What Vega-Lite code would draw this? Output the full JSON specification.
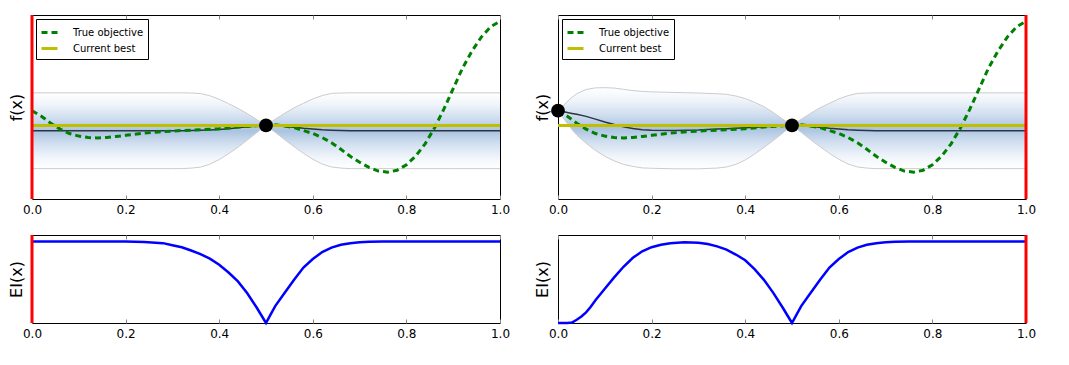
{
  "$schema": "https://vega.github.io/schema/vega-lite/v6.json",
  "padding": {"left": 7, "top": 13, "right": 0, "bottom": 0},
  "config": {
    "font": "DejaVu Sans",
    "view": {"stroke": "#000", "strokeWidth": 1},
    "axisY": {"labels": false, "ticks": false, "domain": false, "grid": false, "titleFontSize": 16, "titleFontWeight": "normal", "titleFont": "DejaVu Sans", "titlePadding": 8, "titleColor": "#000"},
    "legend": {
      "orient": "top-left", "offset": 4, "title": null,
      "strokeColor": "#000", "fillColor": "#fff", "padding": 4, "cornerRadius": 0,
      "symbolType": "stroke", "symbolSize": 256, "symbolStrokeWidth": 3,
      "labelFont": "DejaVu Sans", "labelFontSize": 10, "labelColor": "#000",
      "labelOffset": 14, "rowPadding": 0
    }
  },
  "datasets": {
    "lines": [
      {"x": 0, "f": 0.40, "series": "True objective"},
      {"x": 0.02, "f": 0.25, "series": "True objective"},
      {"x": 0.04, "f": 0.06, "series": "True objective"},
      {"x": 0.06, "f": -0.10, "series": "True objective"},
      {"x": 0.08, "f": -0.22, "series": "True objective"},
      {"x": 0.10, "f": -0.29, "series": "True objective"},
      {"x": 0.12, "f": -0.33, "series": "True objective"},
      {"x": 0.14, "f": -0.34, "series": "True objective"},
      {"x": 0.16, "f": -0.33, "series": "True objective"},
      {"x": 0.18, "f": -0.30, "series": "True objective"},
      {"x": 0.20, "f": -0.27, "series": "True objective"},
      {"x": 0.24, "f": -0.21, "series": "True objective"},
      {"x": 0.28, "f": -0.17, "series": "True objective"},
      {"x": 0.32, "f": -0.14, "series": "True objective"},
      {"x": 0.36, "f": -0.12, "series": "True objective"},
      {"x": 0.40, "f": -0.09, "series": "True objective"},
      {"x": 0.44, "f": -0.045, "series": "True objective"},
      {"x": 0.48, "f": -0.01, "series": "True objective"},
      {"x": 0.50, "f": 0, "series": "True objective"},
      {"x": 0.52, "f": 0.015, "series": "True objective"},
      {"x": 0.54, "f": -0.02, "series": "True objective"},
      {"x": 0.56, "f": -0.06, "series": "True objective"},
      {"x": 0.58, "f": -0.14, "series": "True objective"},
      {"x": 0.60, "f": -0.22, "series": "True objective"},
      {"x": 0.62, "f": -0.33, "series": "True objective"},
      {"x": 0.64, "f": -0.47, "series": "True objective"},
      {"x": 0.66, "f": -0.65, "series": "True objective"},
      {"x": 0.68, "f": -0.84, "series": "True objective"},
      {"x": 0.70, "f": -1.00, "series": "True objective"},
      {"x": 0.72, "f": -1.14, "series": "True objective"},
      {"x": 0.74, "f": -1.24, "series": "True objective"},
      {"x": 0.76, "f": -1.27, "series": "True objective"},
      {"x": 0.78, "f": -1.22, "series": "True objective"},
      {"x": 0.80, "f": -1.07, "series": "True objective"},
      {"x": 0.82, "f": -0.83, "series": "True objective"},
      {"x": 0.84, "f": -0.50, "series": "True objective"},
      {"x": 0.86, "f": -0.07, "series": "True objective"},
      {"x": 0.88, "f": 0.44, "series": "True objective"},
      {"x": 0.90, "f": 1.00, "series": "True objective"},
      {"x": 0.92, "f": 1.56, "series": "True objective"},
      {"x": 0.94, "f": 2.02, "series": "True objective"},
      {"x": 0.96, "f": 2.40, "series": "True objective"},
      {"x": 0.98, "f": 2.68, "series": "True objective"},
      {"x": 1.00, "f": 2.83, "series": "True objective"},
      {"x": 0, "f": 0, "series": "Current best"},
      {"x": 1, "f": 0, "series": "Current best"}
    ],
    "gpL": [
      {"x": 0, "mean": -0.145, "lo": -1.175, "hi": 0.885},
      {"x": 0.1, "mean": -0.145, "lo": -1.175, "hi": 0.885},
      {"x": 0.2, "mean": -0.145, "lo": -1.175, "hi": 0.885},
      {"x": 0.3, "mean": -0.145, "lo": -1.175, "hi": 0.885},
      {"x": 0.32, "mean": -0.145, "lo": -1.175, "hi": 0.885},
      {"x": 0.34, "mean": -0.14, "lo": -1.16, "hi": 0.88},
      {"x": 0.36, "mean": -0.135, "lo": -1.135, "hi": 0.865},
      {"x": 0.38, "mean": -0.125, "lo": -1.055, "hi": 0.805},
      {"x": 0.40, "mean": -0.11, "lo": -0.93, "hi": 0.71},
      {"x": 0.42, "mean": -0.09, "lo": -0.77, "hi": 0.59},
      {"x": 0.44, "mean": -0.065, "lo": -0.595, "hi": 0.465},
      {"x": 0.46, "mean": -0.04, "lo": -0.40, "hi": 0.32},
      {"x": 0.48, "mean": -0.02, "lo": -0.20, "hi": 0.16},
      {"x": 0.49, "mean": -0.01, "lo": -0.10, "hi": 0.08},
      {"x": 0.50, "mean": 0, "lo": 0, "hi": 0},
      {"x": 0.51, "mean": -0.005, "lo": -0.095, "hi": 0.085},
      {"x": 0.52, "mean": -0.01, "lo": -0.19, "hi": 0.17},
      {"x": 0.54, "mean": -0.03, "lo": -0.39, "hi": 0.33},
      {"x": 0.56, "mean": -0.05, "lo": -0.58, "hi": 0.48},
      {"x": 0.58, "mean": -0.08, "lo": -0.76, "hi": 0.60},
      {"x": 0.60, "mean": -0.10, "lo": -0.92, "hi": 0.72},
      {"x": 0.62, "mean": -0.12, "lo": -1.05, "hi": 0.81},
      {"x": 0.64, "mean": -0.13, "lo": -1.13, "hi": 0.87},
      {"x": 0.66, "mean": -0.14, "lo": -1.16, "hi": 0.88},
      {"x": 0.68, "mean": -0.145, "lo": -1.175, "hi": 0.885},
      {"x": 0.8, "mean": -0.145, "lo": -1.175, "hi": 0.885},
      {"x": 0.9, "mean": -0.145, "lo": -1.175, "hi": 0.885},
      {"x": 1, "mean": -0.145, "lo": -1.175, "hi": 0.885}
    ],
    "gpR": [
      {"x": 0, "mean": 0.40, "lo": 0.40, "hi": 0.40},
      {"x": 0.01, "mean": 0.375, "lo": 0.225, "hi": 0.525},
      {"x": 0.02, "mean": 0.35, "lo": 0.05, "hi": 0.65},
      {"x": 0.03, "mean": 0.325, "lo": -0.115, "hi": 0.765},
      {"x": 0.04, "mean": 0.30, "lo": -0.26, "hi": 0.86},
      {"x": 0.06, "mean": 0.245, "lo": -0.485, "hi": 0.975},
      {"x": 0.08, "mean": 0.17, "lo": -0.68, "hi": 1.02},
      {"x": 0.10, "mean": 0.09, "lo": -0.84, "hi": 1.025},
      {"x": 0.12, "mean": 0.025, "lo": -0.965, "hi": 1.015},
      {"x": 0.14, "mean": -0.04, "lo": -1.06, "hi": 0.98},
      {"x": 0.16, "mean": -0.085, "lo": -1.115, "hi": 0.945},
      {"x": 0.18, "mean": -0.115, "lo": -1.155, "hi": 0.925},
      {"x": 0.20, "mean": -0.13, "lo": -1.165, "hi": 0.91},
      {"x": 0.25, "mean": -0.14, "lo": -1.18, "hi": 0.895},
      {"x": 0.30, "mean": -0.125, "lo": -1.18, "hi": 0.88},
      {"x": 0.34, "mean": -0.10, "lo": -1.16, "hi": 0.86},
      {"x": 0.36, "mean": -0.09, "lo": -1.13, "hi": 0.845},
      {"x": 0.38, "mean": -0.075, "lo": -1.06, "hi": 0.80},
      {"x": 0.40, "mean": -0.065, "lo": -0.94, "hi": 0.73},
      {"x": 0.42, "mean": -0.05, "lo": -0.78, "hi": 0.63},
      {"x": 0.44, "mean": -0.035, "lo": -0.60, "hi": 0.51},
      {"x": 0.46, "mean": -0.025, "lo": -0.41, "hi": 0.35},
      {"x": 0.48, "mean": -0.01, "lo": -0.21, "hi": 0.17},
      {"x": 0.49, "mean": -0.005, "lo": -0.105, "hi": 0.085},
      {"x": 0.50, "mean": 0, "lo": 0, "hi": 0},
      {"x": 0.51, "mean": -0.005, "lo": -0.095, "hi": 0.085},
      {"x": 0.52, "mean": -0.01, "lo": -0.19, "hi": 0.17},
      {"x": 0.54, "mean": -0.03, "lo": -0.39, "hi": 0.33},
      {"x": 0.56, "mean": -0.05, "lo": -0.58, "hi": 0.48},
      {"x": 0.58, "mean": -0.08, "lo": -0.76, "hi": 0.60},
      {"x": 0.60, "mean": -0.10, "lo": -0.92, "hi": 0.72},
      {"x": 0.62, "mean": -0.12, "lo": -1.05, "hi": 0.81},
      {"x": 0.64, "mean": -0.13, "lo": -1.13, "hi": 0.87},
      {"x": 0.66, "mean": -0.14, "lo": -1.16, "hi": 0.88},
      {"x": 0.68, "mean": -0.145, "lo": -1.175, "hi": 0.885},
      {"x": 0.8, "mean": -0.145, "lo": -1.175, "hi": 0.885},
      {"x": 0.9, "mean": -0.145, "lo": -1.175, "hi": 0.885},
      {"x": 1, "mean": -0.145, "lo": -1.175, "hi": 0.885}
    ],
    "ptsL": [{"x": 0.5, "f": 0}],
    "ptsR": [{"x": 0, "f": 0.40}, {"x": 0.5, "f": 0}],
    "redL": [{"x": 0}],
    "redR": [{"x": 1}],
    "eiL": [
      {"x": 0, "ei": 1}, {"x": 0.1, "ei": 1}, {"x": 0.2, "ei": 1},
      {"x": 0.24, "ei": 0.995}, {"x": 0.28, "ei": 0.98}, {"x": 0.30, "ei": 0.955},
      {"x": 0.32, "ei": 0.93}, {"x": 0.34, "ei": 0.89}, {"x": 0.36, "ei": 0.845},
      {"x": 0.38, "ei": 0.79}, {"x": 0.40, "ei": 0.715}, {"x": 0.42, "ei": 0.62},
      {"x": 0.44, "ei": 0.51}, {"x": 0.46, "ei": 0.365}, {"x": 0.48, "ei": 0.19},
      {"x": 0.49, "ei": 0.095}, {"x": 0.50, "ei": 0}, {"x": 0.51, "ei": 0.105},
      {"x": 0.52, "ei": 0.21}, {"x": 0.54, "ei": 0.37}, {"x": 0.56, "ei": 0.53},
      {"x": 0.58, "ei": 0.68}, {"x": 0.60, "ei": 0.785}, {"x": 0.62, "ei": 0.87},
      {"x": 0.64, "ei": 0.925}, {"x": 0.66, "ei": 0.96}, {"x": 0.68, "ei": 0.98},
      {"x": 0.70, "ei": 0.99}, {"x": 0.72, "ei": 0.996}, {"x": 0.75, "ei": 1},
      {"x": 0.9, "ei": 1}, {"x": 1, "ei": 1}
    ],
    "eiR": [
      {"x": 0, "ei": 0}, {"x": 0.02, "ei": 0}, {"x": 0.03, "ei": 0.005},
      {"x": 0.04, "ei": 0.04}, {"x": 0.05, "ei": 0.08}, {"x": 0.06, "ei": 0.13},
      {"x": 0.07, "ei": 0.2}, {"x": 0.08, "ei": 0.28}, {"x": 0.09, "ei": 0.35},
      {"x": 0.10, "ei": 0.42}, {"x": 0.12, "ei": 0.56}, {"x": 0.14, "ei": 0.69},
      {"x": 0.16, "ei": 0.80}, {"x": 0.18, "ei": 0.88}, {"x": 0.20, "ei": 0.93},
      {"x": 0.22, "ei": 0.96}, {"x": 0.24, "ei": 0.98}, {"x": 0.27, "ei": 0.99},
      {"x": 0.30, "ei": 0.985}, {"x": 0.32, "ei": 0.97}, {"x": 0.34, "ei": 0.94},
      {"x": 0.36, "ei": 0.90}, {"x": 0.38, "ei": 0.84}, {"x": 0.40, "ei": 0.77},
      {"x": 0.42, "ei": 0.66}, {"x": 0.44, "ei": 0.53}, {"x": 0.46, "ei": 0.37},
      {"x": 0.48, "ei": 0.19}, {"x": 0.49, "ei": 0.095}, {"x": 0.50, "ei": 0},
      {"x": 0.51, "ei": 0.105}, {"x": 0.52, "ei": 0.21}, {"x": 0.54, "ei": 0.37},
      {"x": 0.56, "ei": 0.53}, {"x": 0.58, "ei": 0.68}, {"x": 0.60, "ei": 0.785},
      {"x": 0.62, "ei": 0.87}, {"x": 0.64, "ei": 0.925}, {"x": 0.66, "ei": 0.96},
      {"x": 0.68, "ei": 0.98}, {"x": 0.70, "ei": 0.99}, {"x": 0.72, "ei": 0.996},
      {"x": 0.75, "ei": 1}, {"x": 0.9, "ei": 1}, {"x": 1, "ei": 1}
    ]
  },
  "columns": 2,
  "bounds": "flush",
  "spacing": {"row": 36, "column": 58},
  "resolve": {"scale": {"color": "independent", "strokeDash": "independent"}, "legend": {"color": "independent", "strokeDash": "independent"}},
  "concat": [
    {
      "width": 468, "height": 184,
      "resolve": {"axis": {"x": "independent"}},
      "layer": [
        {
          "data": {"name": "gpL"},
          "mark": {"type": "area", "orient": "vertical", "fill": {"gradient": "linear", "x1": 0, "y1": 0, "x2": 0, "y2": 1, "stops": [{"offset": 0, "color": "#ffffff"}, {"offset": 0.15, "color": "#f0f5fb"}, {"offset": 0.35, "color": "#cddcee"}, {"offset": 0.5, "color": "#a9c3e0"}, {"offset": 0.65, "color": "#cddcee"}, {"offset": 0.85, "color": "#f0f5fb"}, {"offset": 1, "color": "#ffffff"}]}},
          "encoding": {
            "x": {"field": "x", "type": "quantitative", "scale": {"domain": [0, 1], "nice": false, "zero": false},
              "axis": {"orient": "bottom", "values": [0, 0.2, 0.4, 0.6, 0.8, 1], "format": ".1f", "title": null, "grid": false, "domain": false, "tickSize": -4, "tickColor": "#888", "labelPadding": 9, "labelFontSize": 12, "labelFont": "DejaVu Sans", "labelColor": "#000", "labelFlush": false, "labelOverlap": false}},
            "y": {"field": "lo", "type": "quantitative", "title": "f(x)", "scale": {"domain": [-2, 3], "nice": false, "zero": false}},
            "y2": {"field": "hi"}
          }
        },
        {
          "data": {"name": "gpL"},
          "mark": {"type": "line", "color": "#cccccc", "strokeWidth": 1},
          "encoding": {"x": {"field": "x", "type": "quantitative", "axis": {"orient": "top", "values": [0, 0.2, 0.4, 0.6, 0.8, 1], "labels": false, "title": null, "grid": false, "domain": false, "tickSize": -4, "tickColor": "#888"}}, "y": {"field": "hi", "type": "quantitative", "title": "f(x)"}}
        },
        {
          "data": {"name": "gpL"},
          "mark": {"type": "line", "color": "#cccccc", "strokeWidth": 1},
          "encoding": {"x": {"field": "x", "type": "quantitative", "axis": null}, "y": {"field": "lo", "type": "quantitative", "title": "f(x)"}}
        },
        {
          "data": {"name": "gpL"},
          "mark": {"type": "line", "color": "#2e3440", "strokeWidth": 1.5},
          "encoding": {"x": {"field": "x", "type": "quantitative", "axis": null}, "y": {"field": "mean", "type": "quantitative", "title": "f(x)"}}
        },
        {
          "data": {"name": "lines"},
          "mark": {"type": "line", "strokeWidth": 3},
          "encoding": {
            "x": {"field": "x", "type": "quantitative", "axis": null},
            "y": {"field": "f", "type": "quantitative", "title": "f(x)"},
            "color": {"field": "series", "type": "nominal", "scale": {"domain": ["True objective", "Current best"], "range": ["#008000", "#bfbf00"]}},
            "strokeDash": {"field": "series", "type": "nominal", "scale": {"domain": ["True objective", "Current best"], "range": [[6, 4], [1, 0]]}}
          }
        },
        {
          "data": {"name": "ptsL"},
          "mark": {"type": "circle", "color": "#000", "opacity": 1, "size": 190},
          "encoding": {"x": {"field": "x", "type": "quantitative", "axis": null}, "y": {"field": "f", "type": "quantitative", "title": "f(x)"}}
        },
        {
          "data": {"name": "redL"},
          "mark": {"type": "rule", "color": "#ff0000", "strokeWidth": 3},
          "encoding": {"x": {"field": "x", "type": "quantitative", "axis": null}}
        }
      ]
    },
    {
      "width": 468, "height": 184,
      "resolve": {"axis": {"x": "independent"}},
      "layer": [
        {
          "data": {"name": "gpR"},
          "mark": {"type": "area", "orient": "vertical", "fill": {"gradient": "linear", "x1": 0, "y1": 0, "x2": 0, "y2": 1, "stops": [{"offset": 0, "color": "#ffffff"}, {"offset": 0.15, "color": "#f0f5fb"}, {"offset": 0.35, "color": "#cddcee"}, {"offset": 0.5, "color": "#a9c3e0"}, {"offset": 0.65, "color": "#cddcee"}, {"offset": 0.85, "color": "#f0f5fb"}, {"offset": 1, "color": "#ffffff"}]}},
          "encoding": {
            "x": {"field": "x", "type": "quantitative", "scale": {"domain": [0, 1], "nice": false, "zero": false},
              "axis": {"orient": "bottom", "values": [0, 0.2, 0.4, 0.6, 0.8, 1], "format": ".1f", "title": null, "grid": false, "domain": false, "tickSize": -4, "tickColor": "#888", "labelPadding": 9, "labelFontSize": 12, "labelFont": "DejaVu Sans", "labelColor": "#000", "labelFlush": false, "labelOverlap": false}},
            "y": {"field": "lo", "type": "quantitative", "title": "f(x)", "scale": {"domain": [-2, 3], "nice": false, "zero": false}},
            "y2": {"field": "hi"}
          }
        },
        {
          "data": {"name": "gpR"},
          "mark": {"type": "line", "color": "#cccccc", "strokeWidth": 1},
          "encoding": {"x": {"field": "x", "type": "quantitative", "axis": {"orient": "top", "values": [0, 0.2, 0.4, 0.6, 0.8, 1], "labels": false, "title": null, "grid": false, "domain": false, "tickSize": -4, "tickColor": "#888"}}, "y": {"field": "hi", "type": "quantitative", "title": "f(x)"}}
        },
        {
          "data": {"name": "gpR"},
          "mark": {"type": "line", "color": "#cccccc", "strokeWidth": 1},
          "encoding": {"x": {"field": "x", "type": "quantitative", "axis": null}, "y": {"field": "lo", "type": "quantitative", "title": "f(x)"}}
        },
        {
          "data": {"name": "gpR"},
          "mark": {"type": "line", "color": "#2e3440", "strokeWidth": 1.5},
          "encoding": {"x": {"field": "x", "type": "quantitative", "axis": null}, "y": {"field": "mean", "type": "quantitative", "title": "f(x)"}}
        },
        {
          "data": {"name": "lines"},
          "mark": {"type": "line", "strokeWidth": 3},
          "encoding": {
            "x": {"field": "x", "type": "quantitative", "axis": null},
            "y": {"field": "f", "type": "quantitative", "title": "f(x)"},
            "color": {"field": "series", "type": "nominal", "scale": {"domain": ["True objective", "Current best"], "range": ["#008000", "#bfbf00"]}},
            "strokeDash": {"field": "series", "type": "nominal", "scale": {"domain": ["True objective", "Current best"], "range": [[6, 4], [1, 0]]}}
          }
        },
        {
          "data": {"name": "ptsR"},
          "mark": {"type": "circle", "color": "#000", "opacity": 1, "size": 190},
          "encoding": {"x": {"field": "x", "type": "quantitative", "axis": null}, "y": {"field": "f", "type": "quantitative", "title": "f(x)"}}
        },
        {
          "data": {"name": "redR"},
          "mark": {"type": "rule", "color": "#ff0000", "strokeWidth": 3},
          "encoding": {"x": {"field": "x", "type": "quantitative", "axis": null}}
        }
      ]
    },
    {
      "width": 468, "height": 88,
      "resolve": {"axis": {"x": "independent"}},
      "layer": [
        {
          "data": {"name": "eiL"},
          "mark": {"type": "line", "color": "#0000ff", "strokeWidth": 2.5},
          "encoding": {
            "x": {"field": "x", "type": "quantitative", "scale": {"domain": [0, 1], "nice": false, "zero": false},
              "axis": {"orient": "bottom", "values": [0, 0.2, 0.4, 0.6, 0.8, 1], "format": ".1f", "title": null, "grid": false, "domain": false, "tickSize": -4, "tickColor": "#888", "labelPadding": 9, "labelFontSize": 12, "labelFont": "DejaVu Sans", "labelColor": "#000", "labelFlush": false, "labelOverlap": false}},
            "y": {"field": "ei", "type": "quantitative", "title": "EI(x)", "scale": {"domain": [0, 1.08], "nice": false, "zero": false}}
          }
        },
        {
          "data": {"name": "redL"},
          "mark": {"type": "rule", "color": "#ff0000", "strokeWidth": 3},
          "encoding": {"x": {"field": "x", "type": "quantitative", "axis": {"orient": "top", "values": [0, 0.2, 0.4, 0.6, 0.8, 1], "labels": false, "title": null, "grid": false, "domain": false, "tickSize": -4, "tickColor": "#888"}}}
        }
      ]
    },
    {
      "width": 468, "height": 88,
      "resolve": {"axis": {"x": "independent"}},
      "layer": [
        {
          "data": {"name": "eiR"},
          "mark": {"type": "line", "color": "#0000ff", "strokeWidth": 2.5},
          "encoding": {
            "x": {"field": "x", "type": "quantitative", "scale": {"domain": [0, 1], "nice": false, "zero": false},
              "axis": {"orient": "bottom", "values": [0, 0.2, 0.4, 0.6, 0.8, 1], "format": ".1f", "title": null, "grid": false, "domain": false, "tickSize": -4, "tickColor": "#888", "labelPadding": 9, "labelFontSize": 12, "labelFont": "DejaVu Sans", "labelColor": "#000", "labelFlush": false, "labelOverlap": false}},
            "y": {"field": "ei", "type": "quantitative", "title": "EI(x)", "scale": {"domain": [0, 1.08], "nice": false, "zero": false}}
          }
        },
        {
          "data": {"name": "redR"},
          "mark": {"type": "rule", "color": "#ff0000", "strokeWidth": 3},
          "encoding": {"x": {"field": "x", "type": "quantitative", "axis": {"orient": "top", "values": [0, 0.2, 0.4, 0.6, 0.8, 1], "labels": false, "title": null, "grid": false, "domain": false, "tickSize": -4, "tickColor": "#888"}}}
        }
      ]
    }
  ]
}
